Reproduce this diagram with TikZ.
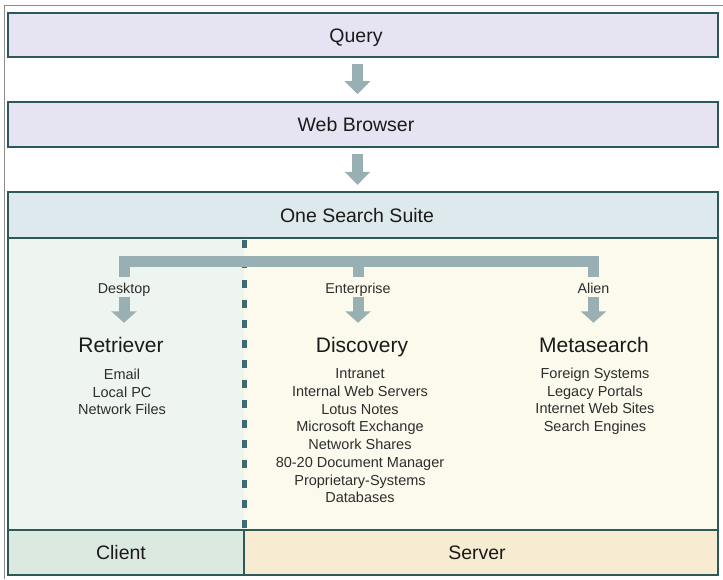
\documentclass[tikz,border=0pt]{standalone}
\usepackage{fontspec}
\setmainfont{Liberation Sans}
\usetikzlibrary{arrows.meta}

\definecolor{edge}{RGB}{45,90,88}
\definecolor{lavender}{RGB}{230,228,242}
\definecolor{headfill}{RGB}{221,233,236}
\definecolor{clientcol}{RGB}{238,245,241}
\definecolor{servercol}{RGB}{252,250,236}
\definecolor{clientband}{RGB}{220,233,224}
\definecolor{serverband}{RGB}{247,236,210}
\definecolor{arrowc}{RGB}{152,175,179}
\definecolor{dashc}{RGB}{62,107,112}
\definecolor{framegrey}{RGB}{140,140,140}
\definecolor{ink}{RGB}{26,26,26}
\definecolor{softink}{RGB}{45,45,45}

\tikzset{
  panel/.style={draw=edge, line width=1.6pt, fill=lavender, inner sep=0pt,
    minimum width=710pt, minimum height=44pt},
  bigtext/.style={font=\fontsize{19.5}{23}\selectfont, text=ink, inner sep=0pt,
    text height=14pt, text depth=0pt},
  coltitle/.style={font=\fontsize{21}{25}\selectfont, text=ink, inner sep=0pt,
    text height=15.1pt, text depth=0pt},
  tag/.style={font=\fontsize{14.3}{17}\selectfont, text=softink, inner sep=0pt,
    text height=10.3pt, text depth=0pt},
  itemlist/.style={font=\fontsize{14.5}{17.7}\selectfont, text=softink, inner sep=0pt,
    align=center, anchor=north},
  flowarrow/.style={draw=arrowc, line width=11pt,
    -{Triangle[length=13pt, width=25pt]}},
  colarrow/.style={draw=arrowc, line width=11pt,
    -{Triangle[length=11.5pt, width=25pt]}},
  bracket/.style={draw=arrowc, line width=11pt, line join=miter},
  dashline/.style={draw=dashc, line width=5pt, dash pattern=on 8pt off 12pt},
}

\begin{document}
\begin{tikzpicture}[x=1pt, y=-1pt]
\useasboundingbox (0,0) rectangle (723,579);

% thin outer frame
\draw[framegrey, line width=1pt] (4,579) -- (4,5) -- (723,5);

% Query and Web Browser panels
\node[panel] (q) at (363,35) {};
\node[bigtext] (qt) at (356,35) {Query};
\node[panel, minimum height=45pt] (wb) at (363,124.5) {};
\node[bigtext] (wbt) at (356,124.5) {Web Browser};

% suite background areas
\fill[clientcol] (8,238) rectangle (244,530);
\fill[servercol] (244,238) rectangle (718,530);
\fill[headfill] (8,192) rectangle (718,238);
\fill[clientband] (8,530) rectangle (244,575);
\fill[serverband] (244,530) rectangle (718,575);
\node[inner sep=0pt, minimum width=710pt, minimum height=383pt] (suite) at (363,383.5) {};

% client / server separator
\draw[dashline] (244.5,240) -- (244.5,530);

% titles and labels
\node[bigtext] (st) at (357,215) {One Search Suite};
\node[bigtext] (cl) at (121,552.5) {Client};
\node[bigtext] (sv) at (477,552.5) {Server};

\node[tag] (dl) at (124,288) {Desktop};
\node[tag] (el) at (358,288) {Enterprise};
\node[tag] (al) at (593.5,288) {Alien};

\node[coltitle] (rt) at (121,344.5) {Retriever};
\node[coltitle] (dt) at (362,344.5) {Discovery};
\node[coltitle] (mt) at (594,344.5) {Metasearch};

\node[itemlist] (ri) at (122,368.7) {Email\\Local PC\\Network Files};
\node[itemlist] (di) at (360,368.7) {Intranet\\Internal Web Servers\\Lotus Notes\\Microsoft Exchange\\Network Shares\\80-20 Document Manager\\Proprietary-Systems\\Databases};
\node[itemlist] (mi) at (595,367.7) {Foreign Systems\\Legacy Portals\\Internet Web Sites\\Search Engines};

% branching bracket
\coordinate (bar) at (0,261.5);
\draw[bracket] ([yshift=6pt]dl.north) -- (dl.north |- bar) -- (al.north |- bar) -- ([yshift=6pt]al.north);
\draw[bracket] ([yshift=6pt]el.north) -- (el.north |- bar);

% column arrows
\draw[colarrow, shorten <=4pt, shorten >=14pt] (dl.south) -- (dl.south |- rt.north);
\draw[colarrow, shorten <=4pt, shorten >=14pt] (el.south) -- (el.south |- dt.north);
\draw[colarrow, shorten <=4pt, shorten >=14pt] (al.south) -- (al.south |- mt.north);

% flow arrows
\draw[flowarrow, shorten <=6pt, shorten >=7pt] ([xshift=-5.5pt]q.south) -- ([xshift=-5.5pt]wb.north);
\draw[flowarrow, shorten <=6pt, shorten >=7pt] ([xshift=-5.5pt]wb.south) -- ([xshift=-5.5pt]suite.north);

% suite outlines
\draw[edge, line width=1.3pt] (8,238) -- (718,238);
\draw[edge, line width=1.8pt] (8,530) -- (718,530);
\draw[edge, line width=1.6pt] (244,530) -- (244,575);
\draw[edge, line width=1.6pt] (suite.south west) rectangle (suite.north east);
\end{tikzpicture}
\end{document}
